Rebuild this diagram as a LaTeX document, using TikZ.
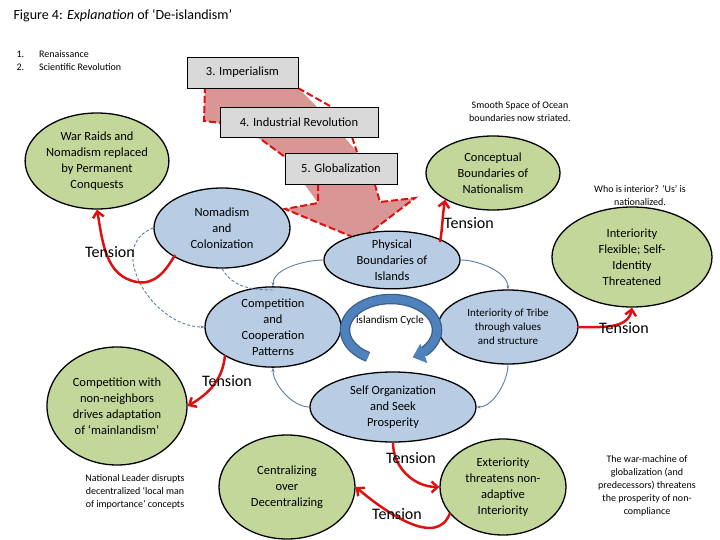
\documentclass[tikz,border=0pt]{standalone}
\usepackage{fontspec}
\setmainfont{Carlito}
\usetikzlibrary{shapes.geometric,arrows.meta}
\definecolor{gr}{HTML}{C4D79B}
\definecolor{bl}{HTML}{B8CCE4}
\definecolor{rd}{HTML}{E01010}
\definecolor{ln}{HTML}{5A7FA0}
\definecolor{bx}{HTML}{D9D9D9}
\definecolor{ar}{HTML}{D99694}
\definecolor{rg}{HTML}{4F81BD}
\definecolor{rgo}{HTML}{385D8A}
\begin{document}
\begin{tikzpicture}[x=1pt,y=1pt,
  ell/.style={ellipse,draw=black,line width=1.3pt,align=center,inner sep=0pt,font=\fontsize{12.5}{16}\selectfont},
  gE/.style={ell,fill=gr},
  bE/.style={ell,fill=bl},
  box/.style={draw=black,fill=bx,font=\fontsize{12.5}{15}\selectfont,inner sep=0pt},
  lab/.style={align=center,font=\fontsize{10}{13}\selectfont},
  ten/.style={font=\fontsize{16}{18}\selectfont},
  red/.style={draw=rd,line width=2.5pt,-{Straight Barb[length=6pt,width=11pt]}},
  thin/.style={draw=ln,line width=0.9pt},
  dsh/.style={thin,densely dashed}]
\useasboundingbox (0,0) rectangle (720,-540);
\node[anchor=west,font=\fontsize{14}{16}\selectfont] (title) at (10,-16) {Figure 4: \textit{Explanation} of ‘De-islandism’};
\node[anchor=north west,align=left,font=\fontsize{10}{13}\selectfont] (list) at (13,-47) {1.\hspace{1.5em}Renaissance\\2.\hspace{1.5em}Scientific Revolution};
% big arrow
\fill[ar] (205,-86) -- (204,-121) -- (222,-123) -- (262,-140) -- (285,-157) -- (318,-203) -- (285,-209) -- (360,-240) -- (415,-198) -- (380,-202) -- (375,-187) -- (357,-152) -- (330,-120) -- (298,-88) -- cycle;
\draw[rd,line width=2pt,dash pattern=on 7pt off 3pt] (205,-86) -- (204,-121) -- (222,-123) (262,-140) -- (285,-157) (318,-184) -- (318,-203) -- (285,-209) -- (360,-240) -- (415,-198) -- (380,-202) -- (375,-185) (352,-137) -- (357,-152) (330,-120) -- (320,-108) (298,-88) -- (330,-106);
\node[box,minimum width=111pt,minimum height=31pt] (imp) at (242.5,-72.5) {3. Imperialism};
\node[box,minimum width=158pt,minimum height=30pt] (ind) at (299,-122) {4. Industrial Revolution};
\node[box,minimum width=112pt,minimum height=31pt] (glo) at (341,-168.5) {5. Globalization};
% ellipses
\node[gE,minimum width=140pt,minimum height=96pt] (war) at (97,-161) {War Raids and\\Nomadism replaced\\by Permanent\\Conquests};
\node[bE,minimum width=136pt,minimum height=80pt] (nom) at (222,-228) {Nomadism\\and\\Colonization};
\node[bE,minimum width=136pt,minimum height=54pt] (phy) at (392,-260) {Physical\\Boundaries of\\Islands};
\node[gE,minimum width=134pt,minimum height=74pt] (con) at (493,-173) {Conceptual\\Boundaries of\\Nationalism};
\node[gE,minimum width=160pt,minimum height=100pt] (flex) at (632,-257) {Interiority\\Flexible; Self-\\Identity\\Threatened};
\node[bE,minimum width=136pt,minimum height=74pt] (comp) at (273,-327) {Competition\\and\\Cooperation\\Patterns};
\node[bE,minimum width=140pt,minimum height=74pt,font=\fontsize{11}{14}\selectfont] (tri) at (508,-327) {Interiority of Tribe\\through values\\and structure};
\node[bE,minimum width=166pt,minimum height=70pt] (self) at (393,-407) {Self Organization\\and Seek\\Prosperity};
\node[gE,minimum width=140pt,minimum height=118pt] (cnn) at (117,-406) {Competition with\\non-neighbors\\drives adaptation\\of ‘mainlandism’};
\node[gE,minimum width=136pt,minimum height=104pt] (cen) at (287,-487) {Centralizing\\over\\Decentralizing};
\node[gE,minimum width=126pt,minimum height=96pt] (ext) at (503,-487) {Exteriority\\threatens non-\\adaptive\\Interiority};
% texts
\node[lab] (smooth) at (520,-112) {Smooth Space of Ocean\\boundaries now striated.};
\node[lab] (who) at (640,-195) {Who is interior? ‘Us’ is\\nationalized.};
\node[lab] (nat) at (135,-492) {National Leader disrupts\\decentralized ‘local man\\of importance’ concepts};
\node[lab] (wm) at (647,-486) {The war-machine of\\globalization (and\\predecessors) threatens\\the prosperity of non-\\compliance};
% cycle
\draw[rgo,line width=10.5pt] (391,-330) ++(240:46 and 31) arc[start angle=240,end angle=-45,x radius=46,y radius=31];
\draw[rg,line width=8pt,-{Triangle[length=12pt,width=20pt]}] (391,-330) ++(240:46 and 31) arc[start angle=240,end angle=-62,x radius=46,y radius=31];
\node[font=\fontsize{11}{13}\selectfont] (cyc) at (390,-321) {islandism Cycle};
% thin connectors
\draw[thin,-{Stealth[length=4pt]}] (phy.west) to[out=180,in=90,looseness=0.8] (comp.north);
\draw[thin,-{Stealth[length=4pt]}] (phy.east) to[out=0,in=90,looseness=0.8] (tri.north);
\draw[thin,-{Stealth[length=4pt]}] (tri.south) to[out=-90,in=0,looseness=0.8] (self.east);
\draw[thin,-{Stealth[length=4pt]}] (self.west) to[out=180,in=-90,looseness=0.8] (comp.south);
\draw[dsh] (nom.south) to[out=-60,in=180] (275,-290);
\draw[dsh,-{Stealth[length=4pt]}] (nom.west) to[out=200,in=180,looseness=1.2] (comp.west);
% red
\draw[red] (175,-255) to[out=-120,in=-10] (137,-282) to[out=170,in=-80] (war.south);
\draw[red] (225,-355) to[out=-95,in=30] (cnn.east);
\draw[red] (440,-242) to[out=80,in=-100] (con.south west);
\draw[red] (tri.east) to[out=0,in=-100] (flex.south);
\draw[red] (self.south) to[out=-90,in=180] (ext.west);
\draw[red] (450,-513) to[out=-110,in=-40] (cen.east);
\node[ten] (t1) at (110,-252) {Tension};
\node[ten] (t2) at (469,-223) {Tension};
\node[ten] (t3) at (624,-328) {Tension};
\node[ten] (t4) at (227,-381) {Tension};
\node[ten] (t5) at (411,-458) {Tension};
\node[ten] (t6) at (397,-514) {Tension};
\end{tikzpicture}
\end{document}
